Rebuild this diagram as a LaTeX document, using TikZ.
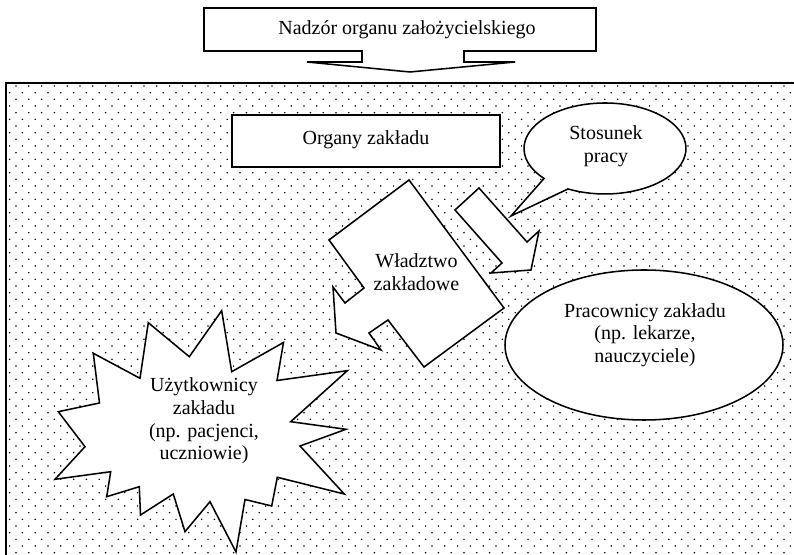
\documentclass[tikz,border=0pt]{standalone}
\usepackage{fontspec}
\setmainfont{Liberation Serif}
\begin{document}
\begin{tikzpicture}[x=0.75pt,y=-0.75pt,
  outline/.style={draw=black,fill=white,line width=1.15pt,line join=miter},
  label/.style={align=center,inner sep=0pt,font=\fontsize{15}{17}\selectfont},
  dot/.style={fill=black}]
\useasboundingbox (0,0) rectangle (794,555);
\clip (0,0) rectangle (794,555);

% dotted ground of the institution frame
\begin{scope}
  \clip (6,83) rectangle (800,560);
  \foreach \r in {0,...,70}{
    \foreach \c in {0,...,62}{
      \fill[dot] ({3.2+12.8*\c+6.4*mod(\r,2)}, {86+6.667*\r}) circle[radius=0.85];
    }
  }
\end{scope}
\draw[line width=1.5pt] (6,83) rectangle (820,580);

% supervision box with its down arrow
\draw[outline] (204,8) -- (596,8) -- (596,51) -- (464,51) -- (464,62) -- (515,62)
  -- (410,72) -- (307,62) -- (362,62) -- (362,51) -- (204,51) -- cycle;
\node[label] (nadzor) at (407,29.5) {Nadzór organu założycielskiego};

% organs of the institution
\draw[outline,line width=2pt] (232,115) rectangle (500,167);
\node[label] (organy) at (366,140) {Organy zakładu};

% speech bubble: employment relation
\draw[outline] (605,148.5) ++(138.8:81 and 45.5)
  arc[start angle=138.8, end angle=477.2, x radius=81, y radius=45.5]
  -- (511,216) -- cycle;
\node[label] (stos) at (606,146.5) {Stosunek\\pracy};

% arrow towards the staff
\draw[outline] (479,188) -- (527,242) -- (539,231) -- (531,270) -- (491,273)
  -- (502,263) -- (455,210) -- cycle;

% institutional authority arrow
\draw[outline] (409,180) -- (504,308) -- (424,367) -- (388,320) -- (369,333)
  -- (381,350) -- (336,333) -- (333,287) -- (345,303) -- (364,288) -- (329,240) -- cycle;
\node[label] (wladz) at (416.5,272) {Władztwo\\zakładowe};

% staff of the institution
\draw[outline] (644,345) ellipse[x radius=139, y radius=75];
\node[label] (prac) at (645,335) {Pracownicy zakładu\\(np. lekarze,\\nauczyciele)};

% users of the institution (starburst)
\draw[outline] (221.7,310.7) -- (231.7,371.7) -- (283.5,342.5) -- (277,380.5)
  -- (347.3,370.7) -- (290.7,421.7) -- (346,429.3) -- (300,446) -- (344.3,494)
  -- (277.3,477.3) -- (271.7,506) -- (245,499.5) -- (236,552) -- (210,501.7)
  -- (185,531.7) -- (173.3,494) -- (140.5,515) -- (139.3,486.7) -- (106.7,496.7)
  -- (110.7,471.7) -- (55,479.3) -- (85,446.7) -- (58.3,411.7) -- (99.5,403)
  -- (93.3,353.3) -- (140,378.3) -- (148.3,322.7) -- (189.3,356.7) -- cycle;
\node[label] (uzyt) at (204,421) {Użytkownicy\\zakładu\\(np. pacjenci,\\uczniowie)};
\end{tikzpicture}
\end{document}
